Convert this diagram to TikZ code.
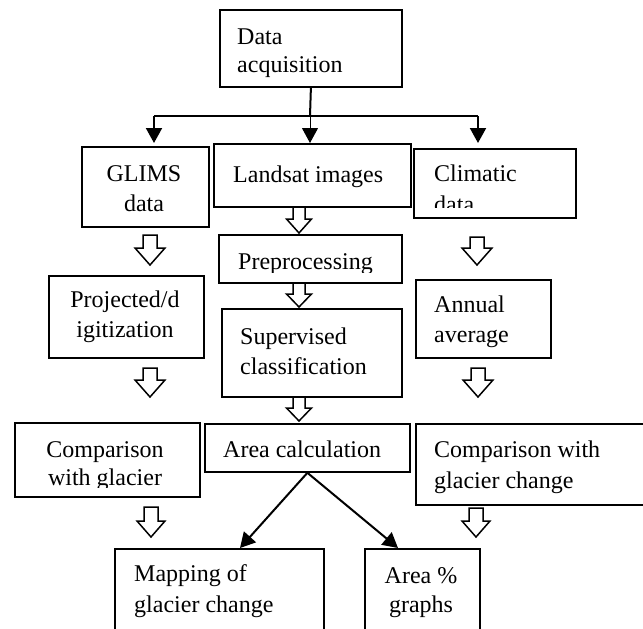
\documentclass[tikz,border=0pt]{standalone}
\usepackage{fontspec}
\setmainfont{Liberation Serif}
\usetikzlibrary{arrows.meta}
\newcommand{\blkarrow}[6]{%
  \draw[hollow] (#1-#4,#2) -- (#1+#4,#2) -- (#1+#4,#3-#6) -- (#1+#5,#3-#6) -- (#1,#3) -- (#1-#5,#3-#6) -- (#1-#4,#3-#6) -- cycle;}
\begin{document}
\begin{tikzpicture}[x=1pt,y=-1pt,
  box/.style={draw, line width=1.8pt, inner sep=0pt, anchor=north west},
  txt/.style={inner sep=0pt, font=\fontsize{24}{30}\selectfont},
  tl/.style={txt, anchor=base west},
  tc/.style={txt, anchor=base},
  conn/.style={line width=2pt, -{Triangle[length=15pt,width=16pt]}},
  hollow/.style={draw, line width=1.5pt, fill=white, line join=miter},
]
\path[use as bounding box, clip] (0,0) rectangle (643,629);

% boxes
\node[box, minimum width=182pt, minimum height=77pt] (acq) at (219,9) {};
\node[box, minimum width=127pt, minimum height=80pt] (glims) at (81,146) {};
\node[box, minimum width=197pt, minimum height=63pt] (landsat) at (213,143) {};
\node[box, minimum width=162pt, minimum height=69pt] (climatic) at (413,148) {};
\node[box, minimum width=183pt, minimum height=48pt] (preproc) at (218,234) {};
\node[box, minimum width=155pt, minimum height=82pt] (projected) at (48,275) {};
\node[box, minimum width=180pt, minimum height=88pt] (supervised) at (221,308) {};
\node[box, minimum width=135pt, minimum height=78pt] (annual) at (415,279) {};
\node[box, minimum width=185pt, minimum height=74pt] (compL) at (14,422) {};
\node[box, minimum width=205pt, minimum height=48pt] (area) at (204,423) {};
\node[box, minimum width=250pt, minimum height=81pt] (compR) at (415,423) {};
\node[box, minimum width=209pt, minimum height=120pt] (mapping) at (114,548) {};
\node[box, minimum width=115pt, minimum height=120pt] (areapct) at (364,548) {};

% texts
\node[tl] (acq1) at (237,44) {Data};
\node[tl] (acq2) at (237,72) {acquisition};
\node[tc] (glims1) at (144,181) {GLIMS};
\node[tc] (glims2) at (144,211) {data};
\node[tl] (landsat1) at (233,182) {Landsat images};
\node[tl] (climatic1) at (434,181) {Climatic};
\begin{scope}
  \clip (413,148) rectangle (575,207);
  \node[tl] (climatic2) at (434,212) {data};
\end{scope}
\begin{scope}
  \clip (218,234) rectangle (401,272);
  \node[tl] (preproc1) at (238,269) {Preprocessing};
\end{scope}
\node[tc] (projected1) at (125,307) {Projected/d};
\node[tc] (projected2) at (125,337) {igitization};
\node[tl] (supervised1) at (240,344) {Supervised};
\node[tl] (supervised2) at (240,374) {classification};
\node[tl] (annual1) at (434,312) {Annual};
\node[tl] (annual2) at (434,342) {average};
\node[tc] (compL1) at (105,457) {Comparison};
\begin{scope}
  \clip (14,422) rectangle (199,487);
  \node[tc] (compL2) at (105,485) {with glacier};
\end{scope}
\node[tl] (area1) at (223,457) {Area calculation};
\node[tl] (compR1) at (434,457) {Comparison with};
\node[tl] (compR2) at (434,488) {glacier change};
\node[tl] (mapping1) at (134,581) {Mapping of};
\node[tl] (mapping2) at (134,612) {glacier change};
\node[tc] (areapct1) at (421,583) {Area \%};
\node[tc] (areapct2) at (421,612) {graphs};

% connectors from Data acquisition
\coordinate (split) at (310,116);
\coordinate (jl) at (154,116);
\coordinate (jr) at (478,116);
\draw[line width=2pt] (acq.south) -- (split);
\draw[line width=2pt] (jl) -- (jr);
\draw[conn, shorten >=3pt] (jl) -- (jl |- glims.north);
\draw[conn, line width=1pt] (split) -- (split |- landsat.north);
\draw[conn, shorten >=5pt] (jr) -- (jr |- climatic.north);

% diagonal arrows
\coordinate (mt) at (240,548);
\coordinate (apt) at (398,548);
\draw[conn] (area.south) -- (mt);
\draw[conn] (area.south) -- (apt);

% hollow block arrows
\blkarrow{150}{235}{265}{7}{15}{17}
\blkarrow{299}{207}{233}{6}{12.5}{14}
\blkarrow{477}{237}{265}{7}{15}{17}
\blkarrow{299}{283}{307}{6}{12.5}{13}
\blkarrow{150}{368}{397}{7}{15}{17}
\blkarrow{478}{368}{397}{7}{15}{17}
\blkarrow{299}{397}{421}{6}{12.5}{13}
\blkarrow{151}{507}{537}{7}{14}{16}
\blkarrow{476}{508}{537}{7}{14}{16}
\end{tikzpicture}
\end{document}
